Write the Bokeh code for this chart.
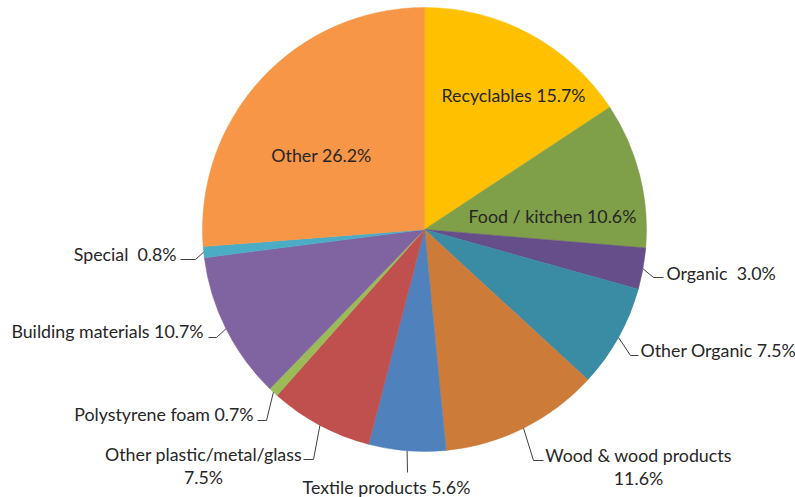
import math
from bokeh.plotting import figure
from bokeh.models import Range1d, ColumnDataSource
from bokeh.core.properties import value
from bokeh.embed import file_html
from bokeh.resources import INLINE

# ---- data ----
categories = ["Recyclables", "Food / kitchen", "Organic", "Other Organic",
              "Wood & wood products", "Textile products", "Other plastic/metal/glass",
              "Polystyrene foam", "Building materials", "Special", "Other"]
values = [15.7, 10.6, 3.0, 7.5, 11.6, 5.6, 7.5, 0.7, 10.7, 0.8, 26.2]
separators = [" ", " ", "\u00a0 ", " ", "\n", " ", "\n", " ", " ", "\u00a0 ", " "]
colors = ["#FFC000", "#7F9F48", "#654E89", "#3A8BA4", "#CD7B38", "#4F81BD",
          "#C0504D", "#9BBB59", "#8064A2", "#4BACC6", "#F79646"]

# ---- layout (reference pixel coordinates; y grows downward) ----
CX, CY, R = 424.0, 229.0, 222.0
# label anchor: (x, first baseline y, align, leader elbow, leader end)
layout = [
    (513, 100, "center", None, None),
    (552, 221, "center", None, None),
    (666, 278, "left", (653, 277), (663, 277)),
    (640, 355, "left", (630, 355), (638, 355)),
    (638, 460, "center", (533, 460), (543, 460)),
    (386, 492, "center", (407, 472), (407, 472)),
    (203, 459, "center", (313, 459), (303, 459)),
    (253, 419, "right", (266, 420), (257, 420)),
    (203, 336, "right", (216, 337), (208, 337)),
    (176, 259, "right", (195, 259), (180, 259)),
    (321, 160, "center", None, None),
]
LINE_GAP = 23
TEXT_DY = 6
FONT = "Lato"
FSIZE = "17.8px"
TXT_COLOR = "#262626"

W, H = 795, 497
p = figure(width=W, height=H, output_backend="svg", toolbar_location=None,
           x_range=Range1d(0, W), y_range=Range1d(-H, 0), min_border=0)
p.axis.visible = False
p.grid.visible = False
p.outline_line_color = None
p.background_fill_color = "white"
p.border_fill_color = "white"

total = sum(values)
starts, ends, mids = [], [], []
acc = 0.0
for v in values:
    a0 = math.pi / 2 - 2 * math.pi * acc / total
    a1 = math.pi / 2 - 2 * math.pi * (acc + v) / total
    am = math.pi / 2 - 2 * math.pi * (acc + v / 2) / total
    starts.append(a0); ends.append(a1); mids.append(am)
    acc += v

src = ColumnDataSource(dict(start=starts, end=ends, color=colors))
p.wedge(x=CX, y=-CY, radius=R, start_angle="start", end_angle="end",
        direction="clock", fill_color="color", line_color="color",
        line_width=0.5, source=src)

# leaders
lx, ly = [], []
for am, lay in zip(mids, layout):
    _, _, _, elbow, end = lay
    if elbow is None:
        continue
    sx = CX + R * math.cos(am)
    sy = -CY + R * math.sin(am)
    lx.append([sx, elbow[0], end[0]])
    ly.append([sy, -elbow[1], -end[1]])
p.multi_line(xs=lx, ys=ly, line_color="#404040", line_width=1)

# labels
tx, ty, tt, ta = [], [], [], []
for cat, v, sep, lay in zip(categories, values, separators, layout):
    x, y, align, _, _ = lay
    label = f"{cat}{sep}{v:.1f}%"
    for i, line in enumerate(label.split("\n")):
        tx.append(x); ty.append(-(y - TEXT_DY + i * LINE_GAP)); tt.append(line); ta.append(align)
tsrc = ColumnDataSource(dict(x=tx, y=ty, text=tt, align=ta))
p.text(x="x", y="y", text="text", text_align="align", text_baseline="alphabetic",
       text_font=value(FONT), text_font_size=FSIZE, text_color=TXT_COLOR, source=tsrc)

open("out.html", "w").write(file_html(p, INLINE))
